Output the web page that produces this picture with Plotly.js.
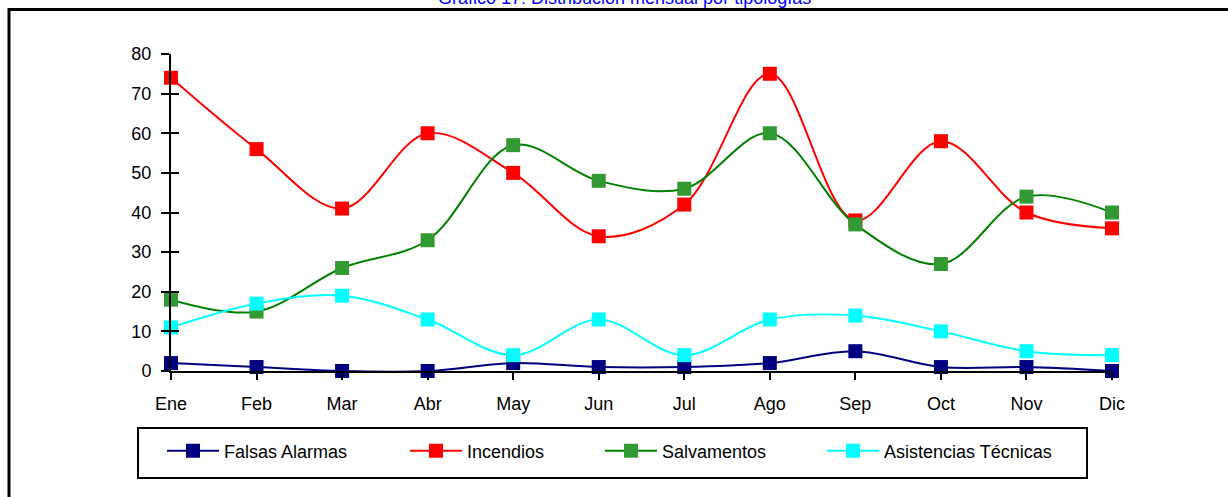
<!DOCTYPE html>
<html><head><meta charset="utf-8">
<script src="https://cdn.plot.ly/plotly-3.0.1.min.js"></script>
<style>html,body{margin:0;padding:0;background:#fff}#chart{width:1228px;height:497px}</style>
</head><body><div id="chart"></div>
<script>
const months = ['Ene','Feb','Mar','Abr','May','Jun','Jul','Ago','Sep','Oct','Nov','Dic'];
const falsasAlarmas = [2,1,0,0,2,1,1,2,5,1,1,0];
const incendios = [74,56,41,60,50,34,42,75,38,58,40,36];
const salvamentos = [18,15,26,33,57,48,46,60,37,27,44,40];
const asistencias = [11,17,19,13,4,13,4,13,14,10,5,4];
const seriesNames = ['Falsas Alarmas','Incendios','Salvamentos','Asistencias Técnicas'];
const lineColors = ['#000080','#FF0000','#008000','#00FFFF'];
const markerColors = ['#000080','#FF0000','#339933','#00FFFF'];
const yTicks = [0,10,20,30,40,50,60,70,80];
const titleText = 'Gráfico 17: Distribución mensual por tipologías';

const W = 1228, H = 497, L = 171, R = 116, T = 54, B = 126;
const pw = W - L - R, ph = H - T - B;
const px = v => (v - L) / pw;
const py = v => (H - B - v) / ph;

const allSeries = [falsasAlarmas, incendios, salvamentos, asistencias];
const legendIds = ['legend','legend2','legend3','legend4'];
const legendStarts = [162, 405, 600, 822];

const traces = allSeries.map((vals, i) => ({
  type: 'scatter', mode: 'lines+markers', x: months, y: vals,
  name: seriesNames[i], legend: legendIds[i],
  line: {color: lineColors[i], width: 2, shape: 'spline', smoothing: 1},
  marker: {symbol: 'square', size: 14, color: markerColors[i]},
  cliponaxis: false
}));
traces.push({type:'scatter', x: months, y: [null], yaxis: 'y2', showlegend: false, hoverinfo: 'skip'});

const font = {family: 'Arial, "Liberation Sans", sans-serif', color: '#000'};
const layout = {
  width: W, height: H, margin: {l: L, r: R, t: T, b: B, pad: 0},
  paper_bgcolor: '#fff', plot_bgcolor: '#fff',
  font: font,
  xaxis: {type: 'category', range: [0, 11], showgrid: false, zeroline: false,
    showline: true, linecolor: '#000', linewidth: 2, ticks: 'outside', ticklen: 7,
    tickwidth: 2, tickcolor: '#000', tickfont: {size: 18}, ticklabelstandoff: 8,
    fixedrange: true},
  yaxis: {range: [0, 80], tickvals: yTicks, showgrid: false, zeroline: false,
    showline: true, linecolor: '#000', linewidth: 2, ticks: 'outside', ticklen: 8,
    tickwidth: 2, tickcolor: '#000', tickfont: {size: 18}, ticklabelstandoff: 6,
    fixedrange: true},
  yaxis2: {overlaying: 'y', anchor: 'x', side: 'left', range: [0, 80], tickvals: yTicks,
    showgrid: false, zeroline: false, showline: false, ticks: 'inside', ticklen: 8,
    tickwidth: 2, tickcolor: '#000', showticklabels: false, fixedrange: true},
  shapes: [
    {type: 'rect', xref: 'paper', yref: 'paper', x0: px(9), x1: px(1240), y0: py(510), y1: py(9.5),
      line: {color: '#000', width: 3}, fillcolor: 'rgba(0,0,0,0)', layer: 'below'},
    {type: 'rect', xref: 'paper', yref: 'paper', x0: px(138), x1: px(1087), y0: py(478), y1: py(428),
      line: {color: '#000', width: 2}, fillcolor: 'rgba(0,0,0,0)', layer: 'below'}
  ],
  annotations: [
    {text: titleText, xref: 'paper', yref: 'paper', x: px(624), y: py(10), xanchor: 'center', yanchor: 'bottom',
      showarrow: false, font: {size: 18, color: '#0000FF'}}
  ],
  showlegend: true
};
legendIds.forEach((id, i) => {
  layout[id] = {x: px(legendStarts[i]), y: py(451), xanchor: 'left', yanchor: 'middle',
    bgcolor: 'rgba(0,0,0,0)', borderwidth: 0, itemwidth: 52,
    font: {size: 18, color: '#000'}, itemclick: false, itemdoubleclick: false};
});

Plotly.newPlot('chart', traces, layout, {displayModeBar: false, staticPlot: true});
</script></body></html>
